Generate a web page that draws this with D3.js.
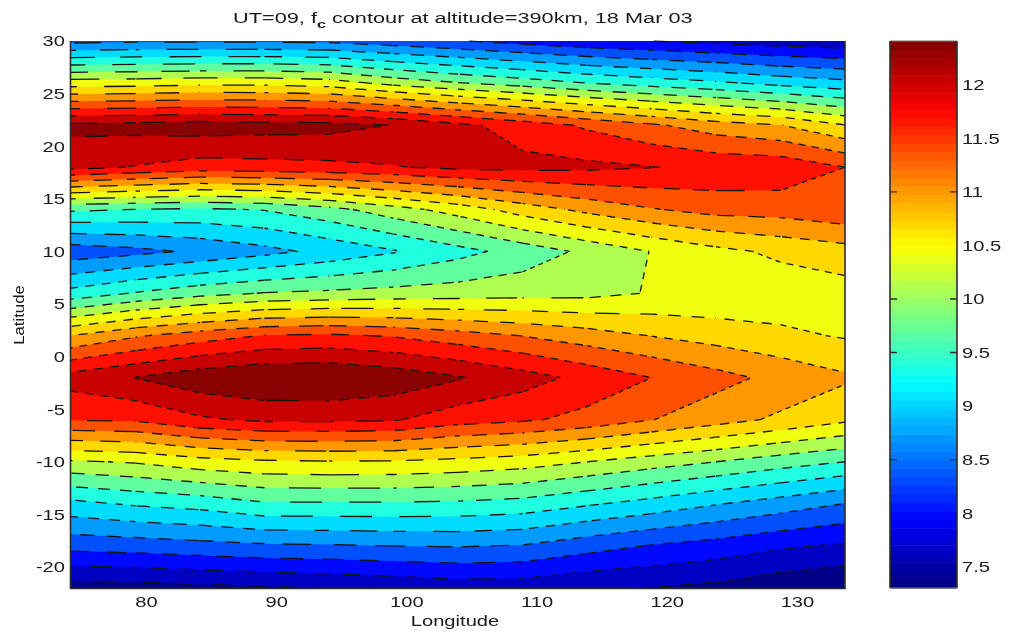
<!DOCTYPE html>
<html>
<head>
<meta charset="utf-8">
<script src="https://cdn.jsdelivr.net/npm/d3@7/dist/d3.min.js"></script>
<style>
html,body{margin:0;padding:0;background:#fff;overflow:hidden}
svg{display:block;filter:blur(0.3px)}
text{font-family:"Liberation Sans",Arial,sans-serif;fill:#1a1a1a}
</style>
</head>
<body>
<svg id="chart" width="1014" height="631"></svg>
<script>
const lons = [74.24,79.2,84.15,89.1,94.06,99.01,103.97,108.92,113.88,118.83,123.78,128.74,133.69];
const lats = [30,26,22,18,14,10,6,2,-2,-6,-10,-14,-18,-22];
const fc30 = [8.49,8.53,8.53,8.53,8.51,8.40,8.28,8.14,8.02,7.94,7.85,7.78,7.73];
const fc26 = [10.33,10.35,10.40,10.40,10.33,10.07,9.88,9.72,9.54,9.40,9.28,9.12,9.00];
const fc22 = [12.17,12.20,12.25,12.22,12.20,12.08,11.85,11.63,11.40,11.18,10.96,10.82,10.50];
const fc18 = [11.88,11.75,11.63,11.66,11.69,11.75,11.84,11.86,11.84,11.78,11.70,11.67,11.45];
const fc14 = [9.60,9.54,9.50,9.56,9.76,10.04,10.31,10.64,10.90,11.11,11.25,11.27,11.38];
const fc10 = [8.38,8.49,8.63,8.80,8.99,9.19,9.43,9.67,9.93,10.18,10.40,10.56,10.68];
const fc06 = [9.34,9.57,9.76,9.88,9.93,9.98,10.02,10.06,10.08,10.19,10.22,10.29,10.35];
const fc02 = [10.81,11.09,11.29,11.46,11.50,11.42,11.27,11.12,10.96,10.80,10.68,10.56,10.46];
const fcS02 = [11.91,12.10,12.30,12.40,12.41,12.30,12.12,11.91,11.67,11.45,11.24,11.04,10.86];
const fcS06 = [11.47,11.50,11.72,11.83,11.83,11.80,11.59,11.50,11.35,11.14,10.94,10.75,10.55];
const fcS10 = [10.13,10.20,10.36,10.44,10.47,10.46,10.40,10.32,10.17,10.01,9.86,9.69,9.54];
const fcS14 = [9.13,9.26,9.34,9.50,9.50,9.50,9.48,9.42,9.26,9.10,8.92,8.75,8.57];
const fcS18 = [8.37,8.41,8.47,8.53,8.55,8.58,8.60,8.56,8.39,8.24,8.13,7.99,7.90];
const fcS22 = [7.47,7.49,7.54,7.58,7.63,7.69,7.77,7.76,7.66,7.61,7.54,7.40,7.30];
const levels = [7.62,7.94,8.26,8.58,8.90,9.22,9.54,9.86,10.17,10.49,10.81,11.13,11.45,11.77,12.09];
const bandColors = ["#000088","#0000c4","#0008ff","#0050ff","#009cff","#00dcff","#20ffe0","#60ffa0","#b0ff50","#f0ff10","#ffd800","#ff9800","#ff5000","#ff1000","#c80000","#8b0000"];
const xTicks = [80,90,100,110,120,130];
const yTicks = [-20,-15,-10,-5,0,5,10,15,20,25,30];
const cbTicks = [7.5,8,8.5,9,9.5,10,10.5,11,11.5,12];
const cbMarkedTicks = [8.5,9.5,10,11];
const cbRange = [7.30,12.41];
const titleParts = ["UT=09, f","c"," contour at altitude=390km, 18 Mar 03"];
const xLabel = "Longitude";
const yLabel = "Latitude";

const rows = [fc30,fc26,fc22,fc18,fc14,fc10,fc06,fc02,fcS02,fcS06,fcS10,fcS14,fcS18,fcS22];
const nx = lons.length, ny = lats.length;
const values = rows.flat();

const svg = d3.select("#chart");
const P = {l:71,r:845,t:41,b:588};
const CB = {l:890,r:957};
const x = d3.scaleLinear().domain([lons[0],lons[nx-1]]).range([P.l,P.r]);
const y = d3.scaleLinear().domain([-22,30]).range([P.b,P.t]);
const lonOf = d3.scaleLinear().domain(d3.range(nx)).range(lons);
const latOf = d3.scaleLinear().domain(d3.range(ny)).range(lats);
const px = c => x(lonOf(Math.max(0,Math.min(nx-1,c-0.5))));
const py = c => y(latOf(Math.max(0,Math.min(ny-1,c-0.5))));

const plot = svg.append("g");
plot.append("rect").attr("x",P.l).attr("y",P.t).attr("width",P.r-P.l).attr("height",P.b-P.t).attr("fill",bandColors[0]);

const gen = d3.contours().size([nx,ny]).thresholds(levels);
const shapes = gen(values);
const path = d3.geoPath(d3.geoTransform({point(a,b){this.stream.point(px(a),py(b));}}));
plot.selectAll("path.band").data(shapes).join("path").attr("class","band")
  .attr("d",path).attr("fill",(d,i)=>bandColors[i+1]).attr("fill-rule","evenodd");

// contour lines: dash length follows the slope of each piece, like the low-resolution original
const lines = plot.append("g").attr("fill","none").attr("stroke","#141414").attr("stroke-width",1.3);
const onEdge = (a,b) => (Math.abs(a[0]-P.l)<.01&&Math.abs(b[0]-P.l)<.01)||(Math.abs(a[0]-P.r)<.01&&Math.abs(b[0]-P.r)<.01)||
  (Math.abs(a[1]-P.t)<.01&&Math.abs(b[1]-P.t)<.01)||(Math.abs(a[1]-P.b)<.01&&Math.abs(b[1]-P.b)<.01);
shapes.forEach(s=>s.coordinates.forEach(poly=>poly.forEach(ring=>{
  const pts = ring.map(p=>[px(p[0]),py(p[1])]);
  let walked = 0;
  for(let i=0;i<pts.length-1;i++){
    const a=pts[i],b=pts[i+1];
    const dx=Math.abs(b[0]-a[0]),dy=Math.abs(b[1]-a[1]);
    const len=Math.hypot(dx,dy);
    if(onEdge(a,b)||len<0.01) continue;
    const m=Math.max(Math.min(dy/(dx||1e-6),dx/(dy||1e-6)),0.002);
    const dash=Math.max(3,Math.min(32,3.2/Math.sqrt(m)));
    const gap=Math.max(4,dash*0.85);
    lines.append("path").attr("d",d3.line()([a,b])).attr("stroke-dasharray",dash.toFixed(1)+" "+gap.toFixed(1))
      .attr("stroke-dashoffset",(walked%(dash+gap)).toFixed(1));
    walked+=len;
  }
})));

// frame
const frame = svg.append("g").attr("stroke","#2c2c2c").attr("stroke-width",1.6).attr("fill","none");
frame.append("path").attr("d",`M${P.l-.5},${P.t}V${P.b+.5}H${P.r}V${P.t}`);

const SX = 1.3;
function styleTicks(g,anchorX){
  g.select(".domain").remove();
  g.selectAll(".tick line").remove();
  g.selectAll(".tick text").attr("font-size",15.5).attr("fill",null);
  if(anchorX!==undefined) g.selectAll(".tick text").attr("x",anchorX/SX);
  g.selectAll(".tick text").attr("transform",`scale(${SX},1)`);
}
const gx = svg.append("g").attr("transform",`translate(0,${P.b})`).call(d3.axisBottom(x).tickValues(xTicks).tickFormat(String).tickSize(0).tickPadding(8));
styleTicks(gx);
const gy = svg.append("g").attr("transform",`translate(${P.l},0)`).call(d3.axisLeft(y).tickValues(yTicks).tickFormat(String).tickSize(0));
styleTicks(gy,-6);

// colour bar
const jet = t => {
  const c = v => Math.round(255*Math.max(0,Math.min(1,1.5-Math.abs(4*t-v))));
  return `rgb(${c(3)},${c(2)},${c(1)})`;
};
const cb = d3.scaleLinear().domain(cbRange).range([P.b,P.t]);
const nBands = 64;
const cbSteps = d3.range(nBands).map(i=>cbRange[0]+(cbRange[1]-cbRange[0])*i/nBands);
const cbStep = (cbRange[1]-cbRange[0])/nBands;
svg.append("g").selectAll("rect").data(cbSteps).join("rect")
  .attr("x",CB.l).attr("width",CB.r-CB.l)
  .attr("y",d=>cb(d+cbStep)).attr("height",d=>cb(d)-cb(d+cbStep)+.5)
  .attr("fill",(d,i)=>jet((i+.5)/nBands));
const gcb = svg.append("g").attr("transform",`translate(${CB.r},0)`).call(d3.axisRight(cb).tickValues(cbTicks).tickFormat(String).tickSize(0));
styleTicks(gcb,5);
const cbFrame = svg.append("g").attr("stroke","#2c2c2c").attr("fill","none");
cbFrame.append("path").attr("stroke-width",1.6).attr("d",`M${CB.l},${P.t}V${P.b}M${CB.r},${P.t}V${P.b}`);
cbFrame.append("path").attr("stroke-width",1).attr("stroke","#777").attr("d",`M${CB.l},${P.t}H${CB.r}M${CB.l},${P.b}H${CB.r}`);
cbFrame.selectAll("path.t").data(cbMarkedTicks).join("path").attr("class","t").attr("stroke-width",1.3)
  .attr("d",d=>`M${CB.l},${cb(d)}h7M${CB.r},${cb(d)}h-7`);

// title and axis labels
const title = svg.append("text").attr("transform",`translate(233,23) scale(1.45,1)`).attr("font-size",15);
title.append("tspan").text(titleParts[0]);
title.append("tspan").attr("dy",5).attr("font-size",11).attr("font-weight","bold").text(titleParts[1]);
title.append("tspan").attr("dy",-5).text(titleParts[2]);
svg.append("text").attr("transform",`translate(455,626) scale(${SX},1)`).attr("text-anchor","middle").attr("font-size",15.5).text(xLabel);
svg.append("text").attr("transform",`translate(24,315) rotate(-90) scale(1.08,1)`).attr("text-anchor","middle").attr("font-size",15.5).text(yLabel);
</script>
</body>
</html>
